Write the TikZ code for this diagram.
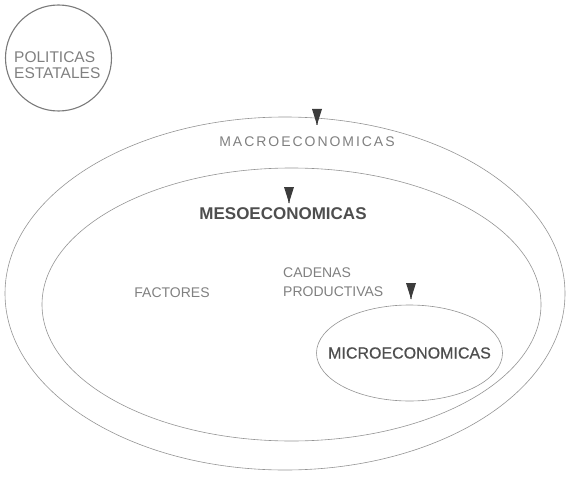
\documentclass[tikz,border=0pt]{standalone}
\usepackage{fontspec}
\setmainfont{Liberation Sans}
\newfontfamily\spacedsans[LetterSpace=14]{Liberation Sans}
\newfontfamily\heavysans[FakeBold=0.6]{Liberation Sans}
\usetikzlibrary{shapes.geometric}

\definecolor{linegray}{HTML}{949494}
\definecolor{ringgray}{HTML}{7A7A7A}
\definecolor{textgray}{HTML}{808080}
\definecolor{strongtext}{HTML}{4E4E4E}
\definecolor{tipgray}{HTML}{3C3C3C}

\tikzset{
  region/.style={draw=linegray, line width=0.6pt, ellipse, inner sep=0pt},
  lbl/.style={text=textgray, inner sep=0pt, font=\fontsize{14}{16}\selectfont},
  strong/.style={text=strongtext, inner sep=0pt},
  downtip/.pic={\fill[tipgray] (-5,0) -- (5,0) -- (0.9,13) -- (0.5,16) -- (-0.5,16) -- (-0.9,13) -- cycle;}
}

\begin{document}
\begin{tikzpicture}[x=1pt, y=-1pt]
  \useasboundingbox (0,0) rectangle (567,500);

  % policy circle
  \node[draw=ringgray, line width=1.1pt, circle, minimum size=106pt, inner sep=0pt] (pol) at (58.5,58) {};
  \node[lbl, font=\fontsize{15.5}{16}\selectfont, align=left, anchor=west] (poltxt) at (14,65) {POLITICAS\\ESTATALES};

  % nested levels
  \node[region, minimum width=560pt, minimum height=353pt] (macro) at (285,293.5) {};
  \node[region, minimum width=499pt, minimum height=273pt] (meso) at (291.5,304.5) {};
  \node[region, minimum width=186pt, minimum height=96pt] (micro) at (409.5,353) {};

  % labels
  \node[lbl, font=\spacedsans\fontsize{14}{16}\selectfont] (macrotxt) at (307,141.5) {MACROECONOMICAS};
  \node[strong, font=\bfseries\fontsize{17}{18}\selectfont] (mesotxt) at (283,213.5) {MESOECONOMICAS};
  \node[lbl] (factores) at (172,292.5) {FACTORES};
  \node[lbl, align=left, anchor=west, font=\fontsize{14}{19}\selectfont] (cadenas) at (283,282.5) {CADENAS\\PRODUCTIVAS};
  \node[strong, font=\heavysans\fontsize{16}{18}\selectfont] (microtxt) at (micro.center) {MICROECONOMICAS};

  % downward markers
  \pic at (317,109) {downtip};
  \pic at (289,187) {downtip};
  \pic at (411,283) {downtip};
\end{tikzpicture}
\end{document}
